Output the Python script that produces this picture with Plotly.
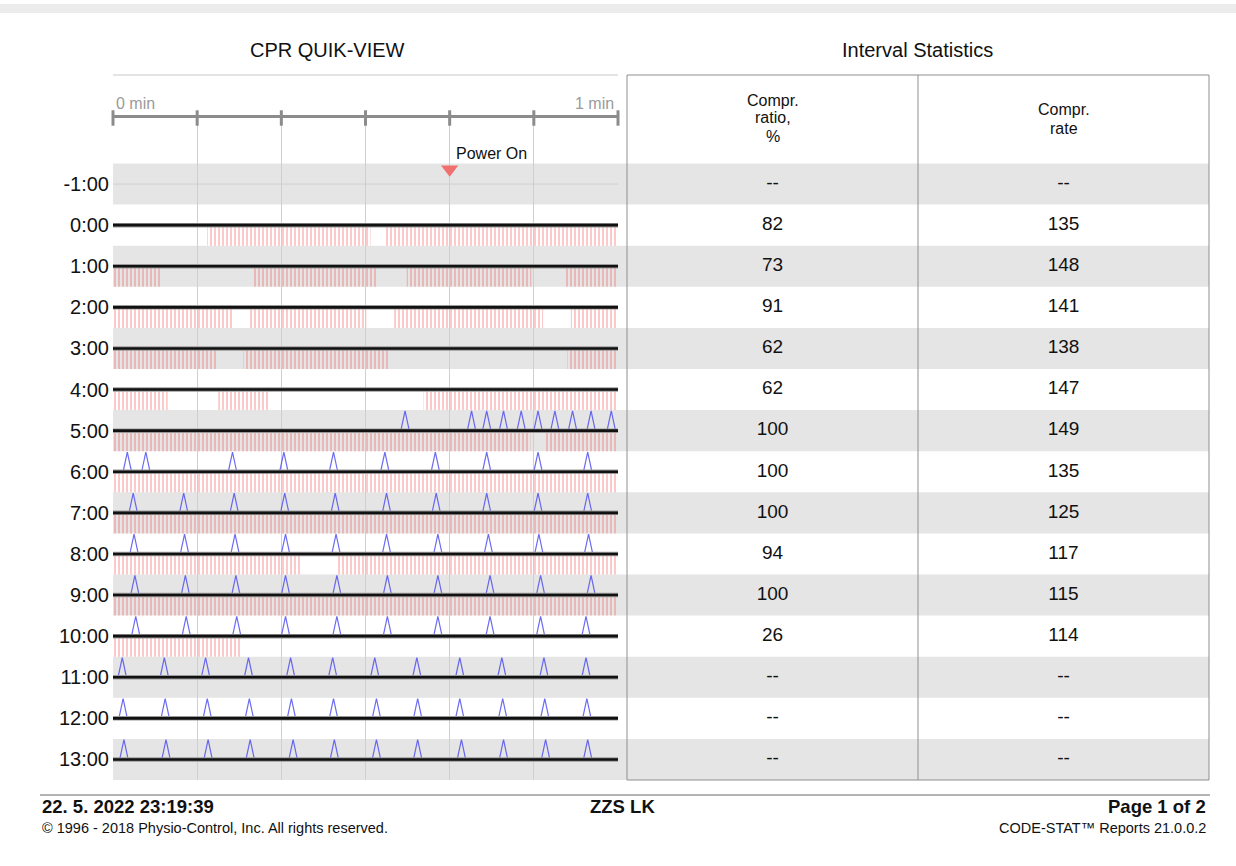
import plotly.graph_objects as go

W, H = 1236, 866


def px(x):
    return x / W


def py(y):
    return 1 - y / H


# ---------------- data ----------------
row_labels = ["-1:00", "0:00", "1:00", "2:00", "3:00", "4:00", "5:00", "6:00",
              "7:00", "8:00", "9:00", "10:00", "11:00", "12:00", "13:00"]
ratio_pct = [None, 82, 73, 91, 62, 62, 100, 100, 100, 94, 100, 26, None, None, None]
rate_cpm = [None, 135, 148, 141, 138, 147, 149, 135, 125, 117, 115, 114, None, None, None]
recorded_rows = ["0:00", "1:00", "2:00", "3:00", "4:00", "5:00", "6:00", "7:00",
                 "8:00", "9:00", "10:00", "11:00", "12:00", "13:00"]
grid_ticks_s = [0, 10, 20, 30, 40, 50, 60]

# compression periods (start s, end s) within each minute row
compr_segments = {
    "0:00": [(11.2, 30.6), (32.2, 59.9)],
    "1:00": [(0.0, 5.8), (16.7, 31.3), (34.9, 49.7), (53.8, 59.9)],
    "2:00": [(0.0, 14.2), (16.2, 30.1), (33.4, 51.1), (54.4, 59.9)],
    "3:00": [(0.0, 12.3), (15.5, 32.7), (54.0, 59.9)],
    "4:00": [(0.0, 6.5), (12.5, 18.5), (36.9, 59.9)],
    "5:00": [(0.0, 49.6), (51.4, 59.9)],
    "6:00": [(0.0, 59.9)],
    "7:00": [(0.0, 59.9)],
    "8:00": [(0.0, 22.4), (26.7, 59.9)],
    "9:00": [(0.0, 59.9)],
    "10:00": [(0.0, 15.2)],
}

# ventilation times (s) within each minute row
ventilations = {
    "5:00": [34.7, 42.6, 44.4, 46.4, 48.5, 50.5, 52.5, 54.6, 56.8, 59.2],
    "6:00": [1.7, 3.9, 14.2, 20.3, 26.2, 32.3, 38.3, 44.4, 50.5, 56.4],
    "7:00": [2.4, 8.4, 14.4, 20.4, 26.4, 32.5, 38.4, 44.4, 50.5, 56.4],
    "8:00": [2.5, 8.5, 14.5, 20.5, 26.5, 32.5, 38.6, 44.6, 50.6, 56.5],
    "9:00": [2.6, 8.6, 14.6, 20.5, 26.6, 32.6, 38.6, 44.8, 50.8, 56.8],
    "10:00": [2.7, 8.7, 14.7, 20.5, 26.6, 32.6, 38.6, 44.8, 50.8, 56.2],
    "11:00": [1.1, 6.1, 11.0, 16.1, 21.1, 26.1, 31.1, 36.1, 41.2, 46.2, 51.2, 56.2],
    "12:00": [1.2, 6.2, 11.2, 16.2, 21.2, 26.2, 31.3, 36.2, 41.2, 46.3, 51.3, 56.3],
    "13:00": [1.3, 6.3, 11.3, 16.3, 21.4, 26.3, 31.3, 36.2, 41.4, 46.4, 51.4, 56.4],
}

power_on = {"row": "-1:00", "t": 40.0, "label": "Power On"}

# ---------------- styling constants ----------------
FONT = "Liberation Sans, Arial, Helvetica, sans-serif"
X0, X1 = 113, 618            # left plot pixel extent
TX0, TX1, TMID = 627, 1209, 918
Y_TOP_PX, Y_BOT_PX = 118, 780
ROW_PX = 41.07
Y_TOP = -(184 - Y_TOP_PX) / ROW_PX   # data value at the top of plot area
VENT_HALF = 0.5
VENT_H = 0.48
HATCH_PX = 4          # hatch spacing in pixels
HATCH_SOLIDITY = 0.25

idx = {lab: i for i, lab in enumerate(row_labels)}
ys = list(range(len(row_labels)))

fig = go.Figure()

# gray alternating bands (both halves)
shapes = []
for i, lab in enumerate(row_labels):
    if i % 2 == 0:
        shapes.append(dict(type="rect", xref="paper", yref="y",
                           x0=px(X0), x1=px(TX1), y0=i - 0.5, y1=i + 0.5,
                           fillcolor="#e5e5e5", line=dict(width=0), layer="below"))

# thin row guide lines (left plot only)
gx, gy = [], []
for i in ys:
    gx += [0, 60, None]
    gy += [i, i, None]
fig.add_trace(go.Scatter(x=gx, y=gy, mode="lines", line=dict(color="#cfcfcf", width=1),
                         hoverinfo="skip", showlegend=False))

# compressions as vertically-hatched bars
bx, by, bbase = [], [], []
for lab, segs in compr_segments.items():
    for s, e in segs:
        by.append(idx[lab] + 0.27)
        bbase.append(s)
        bx.append(e - s)
fig.add_trace(go.Bar(
    x=bx, y=by, base=bbase, orientation="h", width=0.46,
    marker=dict(color="rgba(0,0,0,0)", line=dict(width=0),
                pattern=dict(shape="|", size=HATCH_PX, solidity=HATCH_SOLIDITY,
                             fgcolor="#ee4f4f", fgopacity=0.6)),
    hoverinfo="skip", showlegend=False, xaxis="x", yaxis="y"))

# ventilations as narrow open peaks
vx, vy = [], []
for lab, times in ventilations.items():
    i = idx[lab]
    for t in times:
        vx += [t - VENT_HALF, t, t + VENT_HALF, None]
        vy += [i, i - VENT_H, i, None]
fig.add_trace(go.Scatter(x=vx, y=vy, mode="lines",
                         line=dict(color="rgba(70,70,240,0.8)", width=1.2),
                         hoverinfo="skip", showlegend=False))

# recording baselines
lx, ly = [], []
for lab in recorded_rows:
    lx += [0, 60, None]
    ly += [idx[lab], idx[lab], None]
fig.add_trace(go.Scatter(x=lx, y=ly, mode="lines",
                         line=dict(color="#9a9a9a", width=4.5),
                         hoverinfo="skip", showlegend=False))
fig.add_trace(go.Scatter(x=lx, y=ly, mode="lines",
                         line=dict(color="#111111", width=2.6),
                         hoverinfo="skip", showlegend=False))

# top-axis tick marks
fig.add_trace(go.Scatter(x=grid_ticks_s, y=[Y_TOP] * len(grid_ticks_s), mode="markers",
                         marker=dict(symbol="line-ns", size=11,
                                     line=dict(color="#8c8c8c", width=3)),
                         cliponaxis=False, hoverinfo="skip", showlegend=False))

# power on marker
fig.add_trace(go.Scatter(x=[power_on["t"]], y=[idx[power_on["row"]] - 0.36], mode="markers",
                         marker=dict(symbol="triangle-down", size=15, color="#f07070"),
                         cliponaxis=False, hoverinfo="skip", showlegend=False))

# table values
col1 = ["--" if v is None else str(v) for v in ratio_pct]
col2 = ["--" if v is None else str(v) for v in rate_cpm]
fig.add_trace(go.Scatter(x=[0.5] * len(ys), y=ys, text=col1, mode="text",
                         textfont=dict(size=19, color="#111", family=FONT),
                         xaxis="x2", yaxis="y", hoverinfo="skip", showlegend=False))
fig.add_trace(go.Scatter(x=[1.5] * len(ys), y=ys, text=col2, mode="text",
                         textfont=dict(size=19, color="#111", family=FONT),
                         xaxis="x2", yaxis="y", hoverinfo="skip", showlegend=False))

# decorative lines
shapes += [
    dict(type="rect", xref="paper", yref="paper", x0=0, x1=1, y0=py(13), y1=py(4),
         fillcolor="#ececec", line=dict(width=0), layer="below"),
    dict(type="line", xref="paper", yref="paper", x0=px(X0), x1=px(X1), y0=py(75), y1=py(75),
         line=dict(color="#c8c8c8", width=1)),
    dict(type="rect", xref="paper", yref="paper", x0=px(TX0), x1=px(TX1), y0=py(780), y1=py(75),
         line=dict(color="#8f8f8f", width=1)),
    dict(type="line", xref="paper", yref="paper", x0=px(TMID), x1=px(TMID), y0=py(780), y1=py(75),
         line=dict(color="#8f8f8f", width=1)),
    dict(type="line", xref="paper", yref="paper", x0=px(40), x1=px(1210), y0=py(795), y1=py(795),
         line=dict(color="#b4b4b4", width=2)),
]

ann = []


def A(text, x, y, size, xanchor="center", color="#111", xref="paper", xshift=0):
    ann.append(dict(text=text, x=x, y=py(y), xref=xref, yref="paper", showarrow=False,
                    xanchor=xanchor, yanchor="middle", xshift=xshift,
                    font=dict(size=size, color=color, family=FONT)))


A("CPR QUIK-VIEW", px(327), 50, 20)
A("Interval Statistics", px(917), 50, 20)
c1 = px((TX0 + TMID) / 2)
c2 = px((TMID + TX1) / 2)
A("Compr.", c1, 100, 16)
A("ratio,", c1, 118, 16)
A("%", c1, 136, 16)
A("Compr.", c2, 110, 16)
A("rate", c2, 128, 16)
A("0 min", 0, 103, 16, xanchor="left", color="#9a9a9a", xref="x", xshift=1)
A("1 min", 60, 103, 16, xanchor="right", color="#9a9a9a", xref="x", xshift=-2)
A(power_on["label"], power_on["t"], 153, 16, xanchor="left", xref="x", xshift=4)
A("<b>22. 5. 2022 23:19:39</b>", px(40), 806, 18.5, xanchor="left")
A("<b>ZZS LK</b>", px(622), 806, 18.5)
A("<b>Page 1 of 2</b>", px(1208), 806, 18.5, xanchor="right")
A("© 1996 - 2018 Physio-Control, Inc. All rights reserved.", px(40), 828, 14.5, xanchor="left")
A("CODE-STAT™ Reports 21.0.0.2", px(1208), 828, 14.5, xanchor="right")

fig.update_layout(
    width=W, height=H, margin=dict(l=0, r=0, t=0, b=0),
    paper_bgcolor="white", plot_bgcolor="rgba(0,0,0,0)",
    font=dict(family=FONT, color="#111"),
    barmode="overlay", showlegend=False,
    shapes=shapes, annotations=ann,
    xaxis=dict(domain=[px(X0), px(X1)], range=[0, 60], side="top", anchor="y",
               showline=True, linecolor="#8c8c8c", linewidth=3,
               showgrid=True, gridcolor="#cfcfcf", gridwidth=1,
               tickmode="array", tickvals=grid_ticks_s, showticklabels=False,
               ticks="", zeroline=False, fixedrange=True),
    xaxis2=dict(domain=[px(TX0), px(TX1)], range=[0, 2], anchor="y", visible=False,
                fixedrange=True),
    yaxis=dict(domain=[py(Y_BOT_PX), py(Y_TOP_PX)], range=[len(row_labels) - 0.5, Y_TOP],
               tickmode="array", tickvals=ys, ticktext=row_labels,
               tickfont=dict(size=20, color="#111", family=FONT),
               ticklabelstandoff=3,
               showgrid=False, zeroline=False,
               ticks="", showline=False, fixedrange=True),
)

fig.write_html("out.html", config={"displayModeBar": False},
               post_script="document.body.style.margin='0';document.body.style.overflow='hidden';")
